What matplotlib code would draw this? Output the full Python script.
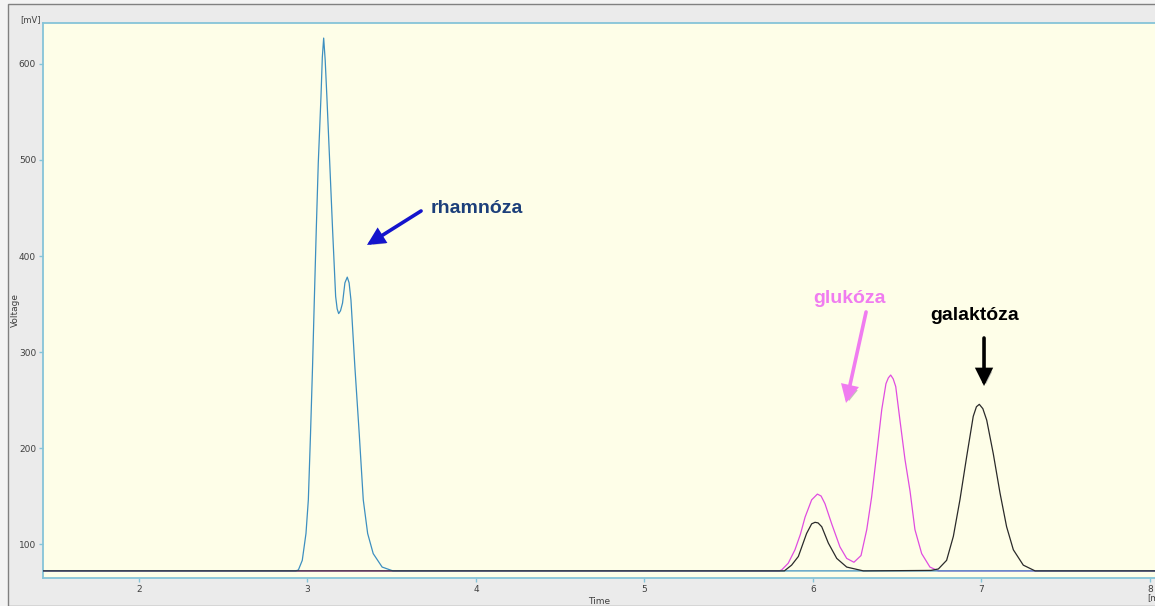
import matplotlib
matplotlib.use("Agg")
import matplotlib.pyplot as plt
from matplotlib.patches import Rectangle
import matplotlib.patheffects as pe

# ---- data ----
blue_t = [1.43, 2.93, 2.946, 2.969, 2.991, 3.005, 3.018, 3.030, 3.040, 3.052, 3.064, 3.080, 3.088,
          3.096, 3.105, 3.115, 3.132, 3.149, 3.167, 3.176, 3.185, 3.196, 3.208, 3.222, 3.236, 3.247,
          3.258, 3.281, 3.307, 3.331, 3.357, 3.390, 3.443, 3.507, 8.03]
blue_v = [72, 72, 73, 83, 111, 146, 215, 285, 351, 427, 497, 566, 607,
          627, 604, 566, 497, 427, 358, 345, 340, 343, 351, 372, 378, 372,
          354, 285, 215, 146, 111, 90, 76, 72, 72]

mag_t = [1.43, 5.80, 5.814, 5.853, 5.893, 5.925, 5.953, 5.992, 6.026, 6.048, 6.071, 6.111, 6.160,
         6.200, 6.243, 6.285, 6.319, 6.348, 6.378, 6.408, 6.433, 6.447, 6.461, 6.476, 6.491, 6.516,
         6.546, 6.576, 6.605, 6.645, 6.694, 6.744, 8.03]
mag_v = [72, 72, 73, 80, 94, 110, 128, 146, 152, 150, 142, 121, 97,
         85, 81, 88, 115, 149, 194, 240, 267, 273, 276, 272, 264, 229,
         188, 155, 115, 90, 76, 72, 72]

blk_t = [1.43, 5.83, 5.873, 5.913, 5.962, 5.992, 6.012, 6.030, 6.052, 6.091, 6.141, 6.200, 6.299,
         6.70, 6.744, 6.793, 6.833, 6.872, 6.912, 6.951, 6.970, 6.987, 7.008, 7.031, 7.070, 7.110,
         7.149, 7.189, 7.248, 7.318, 8.03]
blk_v = [72, 72, 78, 87, 111, 121, 122.6, 122, 118, 101, 85, 76, 72,
         72.5, 74, 83, 108, 146, 191, 233, 243, 245.5, 241, 229, 194, 153,
         118, 94, 78, 72, 72]

x_ticks = [2, 3, 4, 5, 6, 7, 8]
y_ticks = [100, 200, 300, 400, 500, 600]

labels = ["rhamnóza", "glukóza", "galaktóza"]

W, H = 1155, 606
fig = plt.figure(figsize=(W / 100, H / 100), dpi=100)
fig.patch.set_facecolor("#f3f3f3")

# outer window frame (behind the axes)
fig.add_artist(Rectangle((8 / W, 0.0), 1.2, 1 - 4 / H, transform=fig.transFigure,
                         facecolor="#ebebeb", edgecolor="#808080", lw=1.0, zorder=-10))

ax_l, ax_r = 43 / W, 1.0
ax_b, ax_t = (H - 578) / H, (H - 23) / H
ax = fig.add_axes([ax_l, ax_b, ax_r - ax_l, ax_t - ax_b])
ax.set_zorder(1)
ax.set_facecolor("#fefee8")
ax.set_xlim(1.4303, 8.0297)
ax.set_ylim(64.6, 642.7)

spine_c = "#86c4d8"
for s in ["left", "bottom", "top"]:
    ax.spines[s].set_color(spine_c)
    ax.spines[s].set_linewidth(1.3)
ax.spines["right"].set_visible(False)

ax.set_xticks(x_ticks)
ax.set_yticks(y_ticks)
ax.tick_params(axis="both", colors=spine_c, length=3, width=1, labelsize=6.5,
               labelcolor="#404040", pad=2)
ax.set_xlabel("Time", fontsize=6.5, color="#404040", labelpad=2)
fig.text(15 / W, 1 - 310 / H, "Voltage", fontsize=6.5, color="#404040",
         rotation=90, ha="center", va="center")
fig.text(30 / W, 1 - 20 / H, "[mV]", fontsize=6, color="#404040", ha="center", va="center")
fig.text(1147 / W, 1 - 598 / H, "[min]", fontsize=6, color="#404040", ha="left", va="center")

ax.plot(mag_t, mag_v, color="#e04ce0", lw=0.9, zorder=3)
ax.plot(blue_t, blue_v, color="#3d8fc0", lw=0.9, zorder=3)
ax.plot(blk_t, blk_v, color="#2a2a2a", lw=0.9, zorder=4)

shadow = [pe.SimplePatchShadow(offset=(1.5, -1.5), shadow_rgbFace="#9a9a9a", alpha=0.6), pe.Normal()]

def arrow(tail, tip, color):
    ax.annotate("", xy=tip, xytext=tail,
                arrowprops=dict(arrowstyle="-|>,head_length=0.9,head_width=0.45", lw=2.6,
                                color=color, shrinkA=0, shrinkB=0, joinstyle="miter",
                                path_effects=shadow), zorder=6)

arrow((3.674, 446.9), (3.353, 411.5), "#1414cc")
arrow((6.315, 341.7), (6.196, 246.9), "#f07cf0")
arrow((7.015, 314.6), (7.015, 264.6), "#000000")

font = ["Liberation Sans", "DejaVu Sans"]
ax.text(4.006, 450, labels[0], family=font, fontweight="bold", fontsize=14,
        color="#1c3f7a", ha="center", va="center", zorder=7)
ax.text(6.214, 356, labels[1], family=font, fontweight="bold", fontsize=14,
        color="#f07cf0", ha="center", va="center", zorder=7)
ax.text(6.961, 338.5, labels[2], family=font, fontweight="bold", fontsize=14,
        color="#000000", ha="center", va="center", zorder=7)

fig.savefig("out.png", dpi=100, facecolor=fig.get_facecolor())
